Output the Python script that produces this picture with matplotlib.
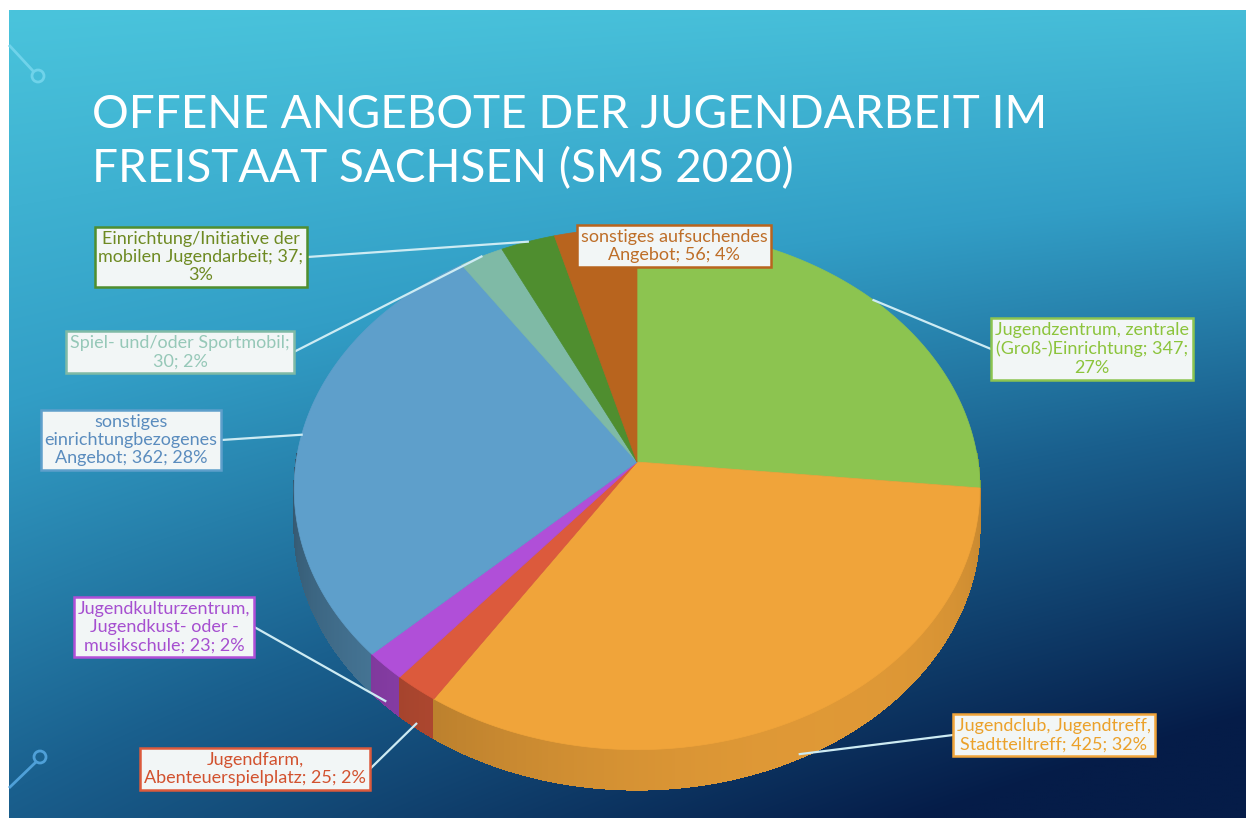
import numpy as np
import matplotlib
matplotlib.use("Agg")
import matplotlib.pyplot as plt
from matplotlib.patches import Polygon, Circle

# ---------------- data ----------------
categories = [
    "Jugendzentrum, zentrale (Groß-)Einrichtung",
    "Jugendclub, Jugendtreff, Stadtteiltreff",
    "Jugendfarm, Abenteuerspielplatz",
    "Jugendkulturzentrum, Jugendkust- oder -musikschule",
    "sonstiges einrichtungbezogenes Angebot",
    "Spiel- und/oder Sportmobil",
    "Einrichtung/Initiative der mobilen Jugendarbeit",
    "sonstiges aufsuchendes Angebot",
]
values = [347, 425, 25, 23, 362, 30, 37, 56]
percent_labels = ["27%", "32%", "2%", "2%", "28%", "2%", "3%", "4%"]
label_templates = [
    "Jugendzentrum, zentrale\n(Groß-)Einrichtung; {v};\n{p}",
    "Jugendclub, Jugendtreff,\nStadtteiltreff; {v}; {p}",
    "Jugendfarm,\nAbenteuerspielplatz; {v}; {p}",
    "Jugendkulturzentrum,\nJugendkust- oder -\nmusikschule; {v}; {p}",
    "sonstiges\neinrichtungbezogenes\nAngebot; {v}; {p}",
    "Spiel- und/oder Sportmobil;\n{v}; {p}",
    "Einrichtung/Initiative der\nmobilen Jugendarbeit; {v};\n{p}",
    "sonstiges aufsuchendes\nAngebot; {v}; {p}",
]
title = "OFFENE ANGEBOTE DER JUGENDARBEIT IM\nFREISTAAT SACHSEN (SMS 2020)"

# ---------------- style ----------------
slice_colors = ["#8CC450", "#F0A43A", "#DC5A3C", "#B04FD8", "#5E9FCB",
                "#7FBAA6", "#4F8E2F", "#B8641E"]
text_colors = ["#8CC43C", "#EBA12A", "#D2522F", "#A64FD0", "#5A8CBE",
               "#96C8B8", "#6E8A22", "#BE6E28"]
label_pos = [(1092, 349), (1054, 735), (255, 769), (164, 627), (131, 440),
             (180, 352), (201, 257), (674, 246)]
has_leader = [True, True, True, True, True, True, True, False]

W, H = 1246, 818
fig = plt.figure(figsize=(W / 100, H / 100), dpi=100)
ax = fig.add_axes([0, 0, 1, 1])
ax.set_xlim(0, W)
ax.set_ylim(H, 0)
ax.axis("off")
fig.patch.set_facecolor("white")

# ---------------- background gradient ----------------
x0, y0 = 9, 10
gx = np.linspace(0, 1, 300)
gy = np.linspace(0, 1, 200)
XX, YY = np.meshgrid(gx, gy)
t = np.clip(YY * (0.62 + 0.45 * XX) + 0.06 * XX, 0, 1)
stops = np.array([0.0, 0.3, 0.6, 1.0])
cols = np.array([[74, 196, 220], [50, 158, 198], [26, 96, 142], [5, 28, 72]]) / 255
img = np.zeros(t.shape + (3,))
for c in range(3):
    img[..., c] = np.interp(t, stops, cols[:, c])
ax.imshow(img, extent=(x0, W, H, y0), aspect="auto", interpolation="bilinear", zorder=0)

# decorative pins
ax.plot([9, 34], [45, 72], color="#6FD3EA", lw=2, zorder=1, solid_capstyle="butt")
ax.add_patch(Circle((38, 76), 6, fill=False, ec="#6FD3EA", lw=2, zorder=1))
ax.plot([9, 36], [788, 762], color="#4FA0D8", lw=2, zorder=1, solid_capstyle="butt")
ax.add_patch(Circle((40, 757), 6, fill=False, ec="#4FA0D8", lw=2, zorder=1))

# ---------------- title ----------------
ax.text(92, 182, title, fontsize=33, color="white", family="Lato",
        ha="left", va="baseline", linespacing=1.3, zorder=5)

# ---------------- 3D perspective pie ----------------
cx, cy = 637, 462
Rx, Ry = 341, 258
dcam = 9.7
depth = 36


def proj(theta_deg, r=1.0):
    th = np.radians(theta_deg)
    u, v = r * np.cos(th), r * np.sin(th)
    s = dcam / (dcam + v)
    return cx + Rx * u * s, cy - Ry * v * s, s


total = sum(values)
angles = [0.0]
for val in values:
    angles.append(angles[-1] + 360.0 * val / total)
starts = [90 - a for a in angles[:-1]]
ends = [90 - a for a in angles[1:]]

# walls: small segments on the visible (front) side, drawn back-to-front
segs = []
for i in range(len(values)):
    n = max(4, int(abs(ends[i] - starts[i]) * 2))
    th = np.linspace(starts[i], ends[i], n + 1)
    for a, b in zip(th[:-1], th[1:]):
        vm = np.sin(np.radians((a + b) / 2))
        if vm < 0.03:
            segs.append((vm, i, a, b))
segs.sort(key=lambda s: -s[0])
for v, i, a, b in segs:
    xa, ya, sa = proj(a)
    xb, yb, sb = proj(b)
    mid = np.radians((a + b) / 2)
    f = 0.66 + 0.27 * np.cos(mid + np.radians(60))
    base = np.array(matplotlib.colors.to_rgb(slice_colors[i]))
    col = np.clip(base * f, 0, 1)
    poly = [(xa, ya), (xb, yb), (xb, yb + depth * sb), (xa, ya + depth * sa)]
    ax.add_patch(Polygon(poly, closed=True, fc=col, ec=col, lw=0.5,
                         antialiased=False, zorder=2))

# top faces
for i in range(len(values)):
    n = max(6, int(abs(ends[i] - starts[i]) * 2))
    th = np.linspace(starts[i], ends[i], n + 1)
    pts = [(cx, cy)] + [proj(a)[:2] for a in th]
    ax.add_patch(Polygon(pts, closed=True, fc=slice_colors[i], ec=slice_colors[i],
                         lw=0.5, zorder=3))

# ---------------- labels ----------------
texts = []
for i in range(len(values)):
    txt = label_templates[i].format(v=values[i], p=percent_labels[i])
    tx, ty = label_pos[i]
    t_ = ax.text(tx, ty, txt, fontsize=13, family="Lato", color=text_colors[i],
                 ha="center", va="center", multialignment="center", linespacing=1.18,
                 zorder=7,
                 bbox=dict(boxstyle="square,pad=0.22", fc="#F2F6F6", ec=slice_colors[i], lw=1.8))
    texts.append(t_)

fig.canvas.draw()
renderer = fig.canvas.get_renderer()
inv = ax.transData.inverted()
for i in range(len(values)):
    if not has_leader[i]:
        continue
    mid = (starts[i] + ends[i]) / 2
    axp, ayp, sp = proj(mid)
    if np.sin(np.radians(mid)) < 0:
        ayp += depth * sp * 0.9
    bb = texts[i].get_bbox_patch().get_window_extent(renderer)
    (bx0, by1), (bx1, by0) = inv.transform([(bb.x0, bb.y0), (bb.x1, bb.y1)])
    bcy = (by0 + by1) / 2
    if axp > bx1:
        px, py = bx1, bcy
    elif axp < bx0:
        px, py = bx0, bcy
    else:
        px = (bx0 + bx1) / 2
        py = by0 if ayp < by0 else by1
    ax.plot([px, axp], [py, ayp], color="#CDEBF3", lw=1.6, zorder=6)

fig.savefig("out.png", dpi=100)
